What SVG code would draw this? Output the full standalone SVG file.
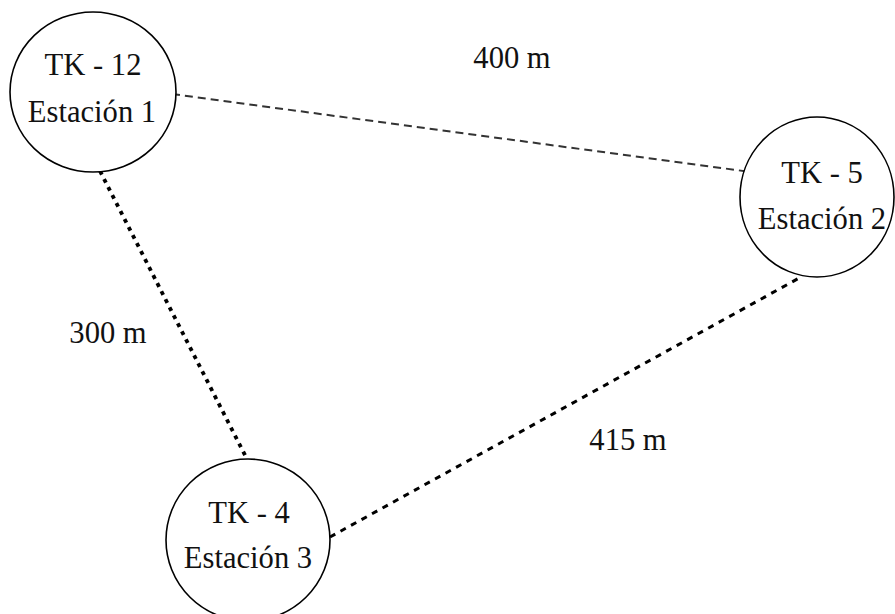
<svg xmlns="http://www.w3.org/2000/svg" width="895" height="614" viewBox="0 0 895 614">
  <style>
    .node { fill: #ffffff; stroke: #000000; stroke-width: 1.6; }
    .lbl { font-family: "Liberation Serif", "Times New Roman", serif; font-size: 30.6px; fill: #111111; text-anchor: middle; }
    .link { fill: none; stroke-linecap: butt; }
  </style>
  <rect width="895" height="614" fill="#ffffff"/>

  <!-- distance links between stations -->
  <g id="connectors">
    <line class="link" x1="172" y1="94" x2="751" y2="172" stroke="#333333" stroke-width="2" stroke-dasharray="8 5"/>
    <line class="link" x1="100" y1="171" x2="247" y2="459" stroke="#000000" stroke-width="3.8" stroke-dasharray="4 5"/>
    <line class="link" x1="330" y1="537" x2="801" y2="277" stroke="#000000" stroke-width="3" stroke-dasharray="6 6"/>
  </g>

  <g id="station1">
    <ellipse class="node" cx="93" cy="92" rx="83" ry="80"/>
    <text class="lbl" x="93" y="75">TK - 12</text>
    <text class="lbl" x="92" y="122">Estación 1</text>
  </g>

  <g id="station2">
    <ellipse class="node" cx="817" cy="197" rx="77" ry="80"/>
    <text class="lbl" x="822" y="183">TK - 5</text>
    <text class="lbl" x="822" y="229">Estación 2</text>
  </g>

  <g id="station3">
    <ellipse class="node" cx="248" cy="540" rx="82" ry="81"/>
    <text class="lbl" x="249" y="523">TK - 4</text>
    <text class="lbl" x="248" y="568">Estación 3</text>
  </g>

  <g id="distance-labels">
    <text class="lbl" x="512" y="68">400 m</text>
    <text class="lbl" x="108" y="343">300 m</text>
    <text class="lbl" x="628" y="450">415 m</text>
  </g>
</svg>
